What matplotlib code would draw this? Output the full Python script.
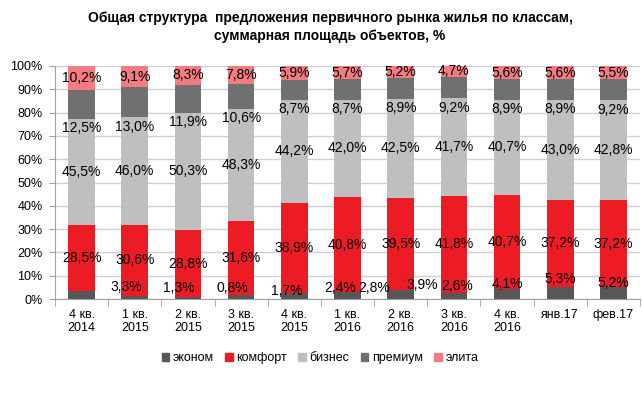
import matplotlib
matplotlib.use('Agg')
import matplotlib.pyplot as plt
import numpy as np
from matplotlib.patches import Patch

plt.rcParams['font.family'] = ['Liberation Sans', 'DejaVu Sans']

categories = ['4 кв.\n2014', '1 кв.\n2015', '2 кв.\n2015', '3 кв.\n2015', '4 кв.\n2015',
              '1 кв.\n2016', '2 кв.\n2016', '3 кв.\n2016', '4 кв.\n2016', 'янв.17', 'фев.17']
series_names = ['эконом', 'комфорт', 'бизнес', 'премиум', 'элита']
econom = [3.3, 1.3, 0.8, 1.7, 2.4, 2.8, 3.9, 2.6, 4.1, 5.3, 5.2]
comfort = [28.5, 30.6, 28.8, 31.6, 38.9, 40.8, 39.5, 41.8, 40.7, 37.2, 37.2]
business = [45.5, 46.0, 50.3, 48.3, 44.2, 42.0, 42.5, 41.7, 40.7, 43.0, 42.8]
premium = [12.5, 13.0, 11.9, 10.6, 8.7, 8.7, 8.9, 9.2, 8.9, 8.9, 9.2]
elite = [10.2, 9.1, 8.3, 7.8, 5.9, 5.7, 5.2, 4.7, 5.6, 5.6, 5.5]

colors = ['#575757', '#ED1C24', '#BFBFBF', '#707070', '#F47C80']

# the econom labels in the original sit off their bars
econ_dx = [0.83, 0.83, 0.83, 0.85, 0.86, 0.51, 0.40, 0.06, 0.0, 0.0, 0.0]
econ_y = [5.0, 4.7, 4.7, 3.5, 4.7, 4.7, 6.0, 5.6, 6.4, 8.6, 6.9]


def fmt(v):
    return f'{v:.1f}%'.replace('.', ',')


fig = plt.figure(figsize=(6.42, 3.93), dpi=100)
ax = fig.add_axes([55 / 642, 94 / 393, 585 / 642, 233 / 393])

x = np.arange(len(categories))
data = [econom, comfort, business, premium, elite]
bottom = np.zeros(len(x))
bottoms = []
for vals, c in zip(data, colors):
    ax.bar(x, vals, 0.5, bottom=bottom, color=c, zorder=3)
    bottoms.append(bottom.copy())
    bottom = bottom + np.array(vals)

fs = 10
for i in x:
    ax.text(i + econ_dx[i], econ_y[i], fmt(econom[i]), ha='center', va='center', fontsize=fs, zorder=5)
    ax.text(i, bottoms[1][i] + comfort[i] / 2, fmt(comfort[i]), ha='center', va='center', fontsize=fs, zorder=5)
    ax.text(i, bottoms[2][i] + business[i] / 2, fmt(business[i]), ha='center', va='center', fontsize=fs, zorder=5)
    ax.text(i, bottoms[3][i] - 4.0, fmt(premium[i]), ha='center', va='center', fontsize=fs, zorder=5)
    ax.text(i, bottoms[4][i] + elite[i] / 2, fmt(elite[i]), ha='center', va='center', fontsize=fs, zorder=5)

ax.set_xlim(-0.5, len(x) - 0.5)
ax.set_ylim(0, 100)
ax.set_yticks(np.arange(0, 101, 10))
ax.set_yticklabels([f'{v}%' for v in range(0, 101, 10)], fontsize=9)
ax.set_xticks(x)
ax.set_xticklabels(categories, fontsize=9, linespacing=1.1)
ax.set_xticks(np.arange(-0.5, len(x), 1), minor=True)
ax.tick_params(axis='x', which='major', length=0, pad=7)
ax.tick_params(axis='x', which='minor', length=5, color='#A0A0A0')
ax.tick_params(axis='y', length=4, color='#A0A0A0', pad=5)
ax.grid(axis='y', color='#D0D0D0', linewidth=1, zorder=0)
for s in ['top', 'right']:
    ax.spines[s].set_visible(False)
for s in ['left', 'bottom']:
    ax.spines[s].set_color('#A0A0A0')

handles = [Patch(color=c, label=n) for c, n in zip(colors, series_names)]
fig.legend(handles=handles, loc='center', bbox_to_anchor=(320 / 642, 1 - 358 / 393), ncol=5,
           frameon=False, fontsize=9, handlelength=0.6, handleheight=0.6, handletextpad=0.3,
           columnspacing=0.9)

fig.text(330 / 642, 1 - 27 / 393,
         'Общая структура  предложения первичного рынка жилья по классам,\nсуммарная площадь объектов, %',
         ha='center', va='center', fontsize=10, fontweight='bold', linespacing=1.35)

fig.savefig('out.png', dpi=100)
